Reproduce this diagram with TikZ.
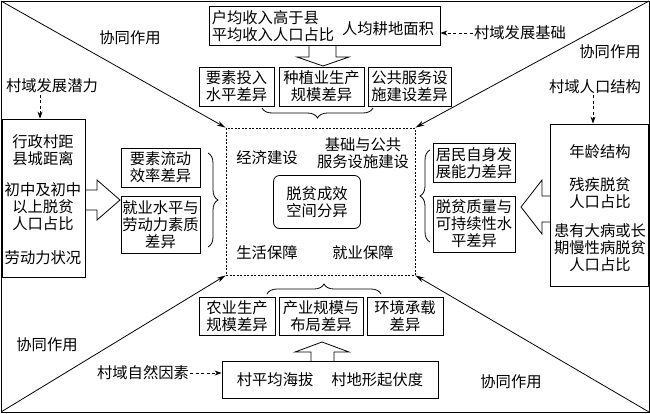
\documentclass[tikz,border=0pt]{standalone}
\usepackage{fontspec}
\setmainfont{Noto Sans CJK SC}
\usetikzlibrary{arrows.meta,decorations.pathreplacing}

\begin{document}
\begin{tikzpicture}[x=1pt,y=-1pt,line width=.8pt,
    font=\fontsize{15.3}{17}\selectfont,
    curly/.style={decorate,decoration={brace,amplitude=10pt}},
    darrow/.style={dash pattern=on 3pt off 2.5pt,-{Stealth[length=7pt,width=5pt]}},
    sarrow/.style={-{Stealth[length=9pt,width=5pt]}}]

  \useasboundingbox (0,0) rectangle (650,413);
  \coordinate (tl) at (1,1);
  \coordinate (tr) at (649,1);
  \coordinate (bl) at (1,412);
  \coordinate (br) at (649,412);
  \draw (tl) rectangle (br);

  % centre
  \node[draw, dash pattern=on 2pt off 1.5pt, minimum width=189, minimum height=147] (c) at (320.5,201.5) {};
  \node[draw, rounded corners=6pt, minimum width=87, minimum height=53, align=center] (m) at (317,202) {脱贫成效\\空间分异};

  \begin{scope}[every node/.style={align=center, inner sep=1pt}]
    \node (e1) at (267,158) {经济建设};
    \node (e2) at (363,153) {基础与公共\\服务设施建设};
    \node (e3) at (267,253) {生活保障};
    \node (e4) at (363,253) {就业保障};
    \node (s1) at (130,38)  {协同作用};
    \node (s2) at (610,52)  {协同作用};
    \node (s3) at (47,345)  {协同作用};
    \node (s4) at (511,382) {协同作用};
    \node (pt) at (520,33)  {村域发展基础};
    \node (pl) at (52,86)   {村域发展潜力};
    \node (pr) at (595,87)  {村域人口结构};
    \node (pb) at (143,373) {村域自然因素};
    \node (l1) at (43,150)  {行政村距\\县城距离};
    \node (l2) at (43,207)  {初中及初中\\以上脱贫\\人口占比};
    \node (l3) at (43,258)  {劳动力状况};
    \node (r1) at (600,152) {年龄结构};
    \node (r2) at (600,193) {残疾脱贫\\人口占比};
    \node (r3) at (600,248) {患有大病或长\\期慢性病脱贫\\人口占比};
    \node[align=left] (t0) at (273,26.5) {户均收入高于县\\平均收入人口占比};
    \node (tc) at (388,29)  {人均耕地面积};
  \end{scope}

  \begin{scope}[every node/.style={draw, align=center, inner sep=1pt, minimum height=39}]
    \node[minimum width=231] (tb) at (324.5,25.5) {};
    \node[minimum width=75] (t1) at (236.5,86.5) {要素投入\\水平差异};
    \node[minimum width=85] (t2) at (321.5,86.5) {种植业生产\\规模差异};
    \node[minimum width=83] (t3) at (409.5,86.5) {公共服务设\\施建设差异};
    \node[minimum width=83, minimum height=158] (lb) at (43.5,198) {};
    \node[minimum width=79] (k1) at (160.5,167.5) {要素流动\\效率差异};
    \node[minimum width=79, minimum height=57] (k2) at (160.5,224.5) {就业水平与\\劳动力素质\\差异};
    \node[minimum width=98, minimum height=162] (rb) at (599,205) {};
    \node[minimum width=82] (h1) at (474,163) {居民自身发\\展能力差异};
    \node[minimum width=82, minimum height=56] (h2) at (474,224) {脱贫质量与\\可持续性水\\平差异};
    \node[minimum width=76, minimum height=38] (b1) at (237,316) {农业生产\\规模差异};
    \node[minimum width=84, minimum height=38] (b2) at (321,316) {产业规模与\\布局差异};
    \node[minimum width=76, minimum height=38] (b3) at (405,316) {环境承载\\差异};
    \node[minimum width=216, minimum height=37] (bb) at (330,379.5) {村平均海拔\hspace{18pt}村地形起伏度};
  \end{scope}

  % synergy lines
  \draw[sarrow] (tl) -- (c.north west);
  \draw[sarrow] (tr) -- (c.north east);
  \draw[sarrow] (bl) -- (c.south west);
  \draw[sarrow] (br) -- (c.south east);

  % outside factors
  \draw[darrow] (pt.west) -- (tb.east |- pt.west);
  \draw[darrow] (pl.south -| 40,0) -- (lb.north -| 40,0);
  \draw[darrow] (pr.south -| 593,0) -- (rb.north -| 593,0);
  \draw[darrow] (pb.east) -- (bb.west |- pb.east);

  % block arrows
  \draw (309,45) -- (309,57) -- (297,57) -- (323,66) -- (349,57) -- (336,57) -- (336,45);
  \draw (85,190) -- (97,190) -- (97,180) -- (120,200) -- (97,220) -- (97,210) -- (85,210);
  \draw (550,196) -- (542,196) -- (542,180) -- (521,207) -- (542,234) -- (542,222) -- (550,222);
  \draw (311,361) -- (311,352) -- (295,352) -- (322,342) -- (349,352) -- (334,352) -- (334,361);

  % braces
  \draw[curly] (373,108) -- (262,108);
  \draw[curly] (208,153) -- (208,247);
  \draw[curly] (430,242) -- (430,150);
  \draw[curly] (267,294) -- (381,294);

\end{tikzpicture}
\end{document}
